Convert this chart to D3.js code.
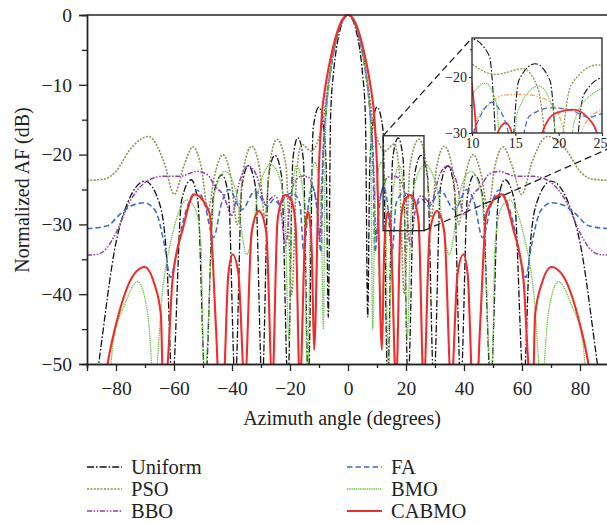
<!DOCTYPE html>
<html><head><meta charset="utf-8">
<script src="https://cdn.jsdelivr.net/npm/d3@7/dist/d3.min.js"></script>
<style>
body{margin:0;background:#fff;}
svg{display:block;font-family:"Liberation Serif","Times New Roman",serif;}
</style></head><body>
<svg id="chart" width="607" height="523"></svg>
<script>
// ---------- data (angle in degrees, normalized AF in dB) ----------
const xTicks = [-80,-60,-40,-20,0,20,40,60,80];
const yTicks = [0,-10,-20,-30,-40,-50];
const insetXTicks = [10,15,20,25];
const insetYTicks = [-20,-30];
const seriesNames = ["Uniform","PSO","BBO","FA","BMO","CABMO"];

const uniform = [[-90,-60],[-88,-56],[-86,-50],[-80,-32.6],[-76,-26.9],[-70,-23.8],[-65,-27],[-62.5,-35],[-60.6,-53],[-57.4,-26.6],[-54.1,-23.6],[-51.8,-26.6],[-49.2,-53],[-46.4,-25.9],[-43.5,-22.9],[-41.2,-25.9],[-38.9,-53],[-36.6,-24.6],[-34.4,-21.6],[-31.9,-24.6],[-29.6,-53],[-27.4,-23.1],[-25.2,-20.1],[-22.9,-23.1],[-20.7,-53],[-19,-20.6],[-17.3,-17.6],[-15.4,-20.6],[-13.7,-53],[-12,-16.2],[-10,-13.2],[-8.5,-15.8],[-7.5,-22],[-6.8,-43.3],[-6,-14.5],[-5,-8.3],[-4,-4.8],[-3,-2.6],[-2,-1.1],
[0,0],[2,-1.1],[3,-2.6],[4,-4.8],[5,-8.3],[6,-14.5],[6.8,-43.3],[7.5,-22],[8.5,-15.8],[10,-13.2],[12,-16.2],[13.7,-53],[15.4,-20.6],[17.3,-17.6],[19,-20.6],[20.7,-53],[22.9,-23.1],[25.2,-20.1],[27.4,-23.1],[29.6,-53],[31.9,-24.6],[34.4,-21.6],[36.6,-24.6],[38.9,-53],[41.2,-25.9],[43.5,-22.9],[46.4,-25.9],[49.2,-53],[51.8,-26.6],[54.1,-23.6],[57.4,-26.6],[60.6,-53],[62.5,-35],[65,-27],[70,-23.8],[76,-26.9],[80,-32.6],[86,-50],[88,-56],[90,-60]];

const pso = [[-90,-23.7],[-84,-23.5],[-80,-22.4],[-75.2,-19.3],[-68.8,-17.4],[-63.5,-21],[-59.9,-25.7],[-56.5,-21.5],[-53.5,-18.9],[-50.5,-22],[-48.3,-28],[-46,-23],[-43.2,-20],[-40.5,-23],[-38.2,-30],[-36,-22],[-33.2,-18.8],[-30.5,-22],[-28.7,-29],[-27,-21.5],[-24.5,-17.8],[-21.4,-21.5],[-19.4,-40],[-17.6,-22],[-15.9,-18.5],[-12.8,-19.5],[-10,-17.6],[-8.7,-15.5],[-7.5,-11.8],[-6,-7.4],[-4,-3.2],[-2,-0.8],
[0,0],[2,-0.8],[4,-3.2],[6,-7.4],[7.5,-11.8],[8.7,-15.5],[10,-17.6],[12.8,-19.5],[15.9,-18.5],[17.6,-22],[19.4,-40],[21.4,-21.5],[24.5,-17.8],[27,-21.5],[28.7,-29],[30.5,-22],[33.2,-18.8],[36,-22],[38.2,-30],[40.5,-23],[43.2,-20],[46,-23],[48.3,-28],[50.5,-22],[53.5,-18.9],[56.5,-21.5],[59.9,-25.7],[63.5,-21],[68.8,-17.4],[75.2,-19.3],[80,-22.4],[84,-23.5],[90,-23.7]];

const bbo = [[-90,-34.4],[-86.6,-34.3],[-83,-33.3],[-80,-31.2],[-75.2,-26.7],[-69.3,-23.8],[-63.6,-23.1],[-57.9,-23.1],[-52,-22.4],[-48.4,-22.9],[-45.9,-24.5],[-43,-25.8],[-40.1,-28.7],[-37.5,-24],[-34.4,-21.6],[-31.5,-23],[-28.6,-26.9],[-25.2,-25.9],[-23.2,-28],[-21.5,-33],[-19.8,-26],[-17.7,-23.5],[-16,-23.1],[-13.8,-23.2],[-12.1,-24.7],[-10.6,-27.5],[-9.7,-32],[-8.7,-20.5],[-7.5,-13],[-6,-8],[-4,-3.5],[-2,-0.9],
[0,0],[2,-0.9],[4,-3.5],[6,-8],[7.5,-13],[8.7,-20.5],[9.7,-32],[10.6,-27.5],[12.1,-24.7],[13.8,-23.2],[16,-23.1],[17.7,-23.5],[19.8,-26],[21.5,-33],[23.2,-28],[25.2,-25.9],[28.6,-26.9],[31.5,-23],[34.4,-21.6],[37.5,-24],[40.1,-28.7],[43,-25.8],[45.9,-24.5],[48.4,-22.9],[52,-22.4],[57.9,-23.1],[63.6,-23.1],[69.3,-23.8],[75.2,-26.7],[80,-31.2],[83,-33.3],[86.6,-34.3],[90,-34.4]];

const fa = [[-90,-30.6],[-83,-30.2],[-78.5,-28.5],[-74.5,-27.3],[-70.3,-26.9],[-66.5,-28],[-63,-33.6],[-61.3,-37.6],[-59.5,-35],[-56.7,-29.3],[-54.5,-26.5],[-52,-25.1],[-49.5,-27],[-46.4,-31.9],[-43.5,-26.8],[-41,-25],[-36.7,-27.9],[-32,-25.2],[-27.8,-27.4],[-25.5,-26.4],[-23.5,-27.2],[-21.6,-26],[-19.2,-25.5],[-16.6,-27],[-15.2,-34],[-13.6,-27],[-12.3,-24.5],[-11.3,-26],[-10.4,-29],[-9.3,-34],[-8.6,-21],[-7.5,-13.5],[-6,-8],[-4,-3.5],[-2,-0.9],
[0,0],[2,-0.9],[4,-3.5],[6,-8],[7.5,-13.5],[8.6,-21],[9.3,-34],[10.4,-29],[11.3,-26],[12.3,-24.5],[13.6,-27],[15.2,-34],[16.6,-27],[19.2,-25.5],[21.6,-26],[23.5,-27.2],[25.5,-26.4],[27.8,-27.4],[32,-25.2],[36.7,-27.9],[41,-25],[43.5,-26.8],[46.4,-31.9],[49.5,-27],[52,-25.1],[54.5,-26.5],[56.7,-29.3],[59.5,-35],[61.3,-37.6],[63,-33.6],[66.5,-28],[70.3,-26.9],[74.5,-27.3],[78.5,-28.5],[83,-30.2],[90,-30.6]];

const bmo = [[-90,-60],[-82.5,-53],[-81,-47],[-77,-41.5],[-72.5,-38.2],[-69,-43],[-66.8,-53],[-63.9,-39.3],[-60.4,-31.2],[-55.5,-26.5],[-52.5,-28],[-50.7,-33],[-49.6,-53],[-46,-25.5],[-42.4,-22.4],[-38.8,-25],[-34.9,-34.3],[-30.5,-24.5],[-26.7,-21.4],[-23.5,-23.5],[-21.8,-28],[-20.4,-46.5],[-19.3,-25.5],[-17.7,-21.6],[-15.3,-26],[-13.9,-53],[-12.8,-24.5],[-11.5,-21.1],[-10,-23.5],[-9.3,-27],[-8.5,-45],[-7.8,-17],[-7,-11.5],[-6,-7.8],[-4,-3.3],[-2,-0.8],
[0,0],[2,-0.8],[4,-3.3],[6,-7.8],[7,-11.5],[7.8,-17],[8.5,-45],[9.3,-27],[10,-23.5],[11.5,-21.1],[12.8,-24.5],[13.9,-53],[15.3,-26],[17.7,-21.6],[19.3,-25.5],[20.4,-46.5],[21.8,-28],[23.5,-23.5],[26.7,-21.4],[30.5,-24.5],[34.9,-34.3],[38.8,-25],[42.4,-22.4],[46,-25.5],[49.6,-53],[50.7,-33],[52.5,-28],[55.5,-26.5],[60.4,-31.2],[63.9,-39.3],[66.8,-53],[69,-43],[72.5,-38.2],[77,-41.5],[81,-47],[82.5,-53],[90,-60]];

const cabmo = [[-90,-60],[-84,-53],[-82.9,-50],[-78.9,-42.6],[-74.2,-37.4],[-70.2,-36.1],[-66.8,-38.5],[-64.5,-43],[-63.8,-53],[-63,-53],[-62.2,-50],[-60.5,-37.9],[-57,-30.7],[-53,-25.7],[-47.8,-28.3],[-45.5,-45],[-44.5,-53],[-43,-53],[-41.3,-37.3],[-39.8,-34.3],[-37.8,-37],[-35.6,-53],[-33.2,-31],[-30.7,-28.1],[-28.2,-31],[-26.1,-53],[-24.4,-30],[-23.5,-27.5],[-21.7,-25.8],[-19.6,-26.5],[-18.1,-30],[-16.6,-53],[-14.7,-30.5],[-13.9,-28.2],[-13.1,-29.5],[-12.4,-35],[-11.7,-48],[-10,-21.6],[-9,-14.2],[-8,-10.8],[-7,-8.3],[-6,-6.2],[-4,-2.8],[-2,-0.7],
[0,0],[2,-0.7],[4,-2.8],[6,-6.2],[7,-8.3],[8,-10.8],[9,-14.2],[10,-21.6],[11.7,-48],[12.4,-35],[13.1,-29.5],[13.9,-28.2],[14.7,-30.5],[16.6,-53],[18.1,-30],[19.6,-26.5],[21.7,-25.8],[23.5,-27.5],[24.4,-30],[26.1,-53],[28.2,-31],[30.7,-28.1],[33.2,-31],[35.6,-53],[37.8,-37],[39.8,-34.3],[41.3,-37.3],[43,-53],[44.5,-53],[45.5,-45],[47.8,-28.3],[53,-25.7],[57,-30.7],[60.5,-37.9],[62.2,-50],[63,-53],[63.8,-53],[64.5,-43],[66.8,-38.5],[70.2,-36.1],[74.2,-37.4],[78.9,-42.6],[82.9,-50],[84,-53],[90,-60]];

// zoomed region marker in the main plot (data coordinates)
const zoomBoxX = [12.1, 26.2];
const zoomBoxY = [-30.9, -17.3];

// ---------- styles ----------
const styles = {
  Uniform:{color:"#111111", dash:"7,2,1.6,2", w:1.3},
  PSO:{color:"#8f8f4f", dash:"2,1.4", w:1.6},
  BBO:{color:"#933fa3", dash:"5,1.6,1.6,1.6,1.6,1.6", w:1.5},
  FA:{color:"#3d6fc8", dash:"5.5,3", w:1.6},
  BMO:{color:"#6cc24a", dash:"1.4,0.8", w:1.3},
  CABMO:{color:"#f02c2c", dash:null, w:2.1}
};
const data = {Uniform:uniform, PSO:pso, BBO:bbo, FA:fa, BMO:bmo, CABMO:cabmo};

const svg = d3.select("#chart");
const L=87, R=609, T=15, B=364;
const x = d3.scaleLinear().domain([-90,90]).range([L,R]);
const y = d3.scaleLinear().domain([-50,0]).range([B,T]);

svg.append("clipPath").attr("id","mainclip").append("rect")
  .attr("x",L).attr("y",T-1).attr("width",R-L).attr("height",B-T+1);

const gLines = svg.append("g").attr("clip-path","url(#mainclip)");
const line = d3.line().x(d=>x(d[0])).y(d=>y(d[1])).curve(d3.curveMonotoneX);
seriesNames.forEach(n=>{
  const s=styles[n];
  gLines.append("path").attr("d",line(data[n])).attr("fill","none")
    .attr("stroke",s.color).attr("stroke-width",s.w)
    .attr("stroke-dasharray",s.dash).attr("stroke-linejoin","round");
});

// frame: top line
svg.append("line").attr("x1",L).attr("x2",R).attr("y1",T).attr("y2",T)
  .attr("stroke","#222").attr("stroke-width",1.4);

// axes
const xAxis = svg.append("g").attr("transform",`translate(0,${B})`)
  .call(d3.axisBottom(x).tickValues(xTicks).tickSize(7).tickPadding(7)
  .tickFormat(d=>d<0?"\u2212"+Math.abs(d):d));
const xMinor = svg.append("g").attr("transform",`translate(0,${B})`)
  .call(d3.axisBottom(x).tickValues(d3.range(-90,91,10).filter(v=>!xTicks.includes(v))).tickSize(4).tickFormat(""));
const yAxis = svg.append("g").attr("transform",`translate(${L},0)`)
  .call(d3.axisLeft(y).tickValues(yTicks).tickSize(8).tickPadding(7)
  .tickFormat(d=>d<0?"\u2212"+Math.abs(d):d));
const yMinor = svg.append("g").attr("transform",`translate(${L},0)`)
  .call(d3.axisLeft(y).tickValues([-5,-15,-25,-35,-45]).tickSize(5).tickFormat(""));
[xAxis,xMinor,yAxis,yMinor].forEach(g=>{
  g.select(".domain").attr("stroke","#222").attr("stroke-width",1.4);
  g.selectAll(".tick line").attr("stroke","#222").attr("stroke-width",1.3);
  g.selectAll("text").attr("font-family","Liberation Serif, serif").attr("font-size",19.5).attr("fill","#222");
});
xAxis.selectAll("text").attr("dy","0.85em");

svg.append("text").attr("x",342).attr("y",425).attr("text-anchor","middle")
  .attr("font-size",20).attr("fill","#222").text("Azimuth angle (degrees)");
svg.append("text").attr("transform","translate(29,190) rotate(-90)").attr("text-anchor","middle")
  .attr("font-size",20).attr("fill","#222").text("Normalized AF (dB)");

// zoom box in main plot
svg.append("rect").attr("x",x(zoomBoxX[0])).attr("y",y(zoomBoxY[1]))
  .attr("width",x(zoomBoxX[1])-x(zoomBoxX[0])).attr("height",y(zoomBoxY[0])-y(zoomBoxY[1]))
  .attr("fill","none").attr("stroke","#222").attr("stroke-width",1.3);

// inset
const IL=472, IR=602, IT=38, IB=133;
const ix = d3.scaleLinear().domain([10,25]).range([IL,IR]);
const iy = d3.scaleLinear().domain([-30,-13]).range([IB,IT]);

// leader lines
svg.append("line").attr("x1",x(zoomBoxX[0])).attr("y1",y(zoomBoxY[1])).attr("x2",IL).attr("y2",IT)
  .attr("stroke","#222").attr("stroke-width",1.3).attr("stroke-dasharray","7,4");
svg.append("line").attr("x1",x(zoomBoxX[1])).attr("y1",y(zoomBoxY[0])).attr("x2",IR+8).attr("y2",IB+15)
  .attr("stroke","#222").attr("stroke-width",1.3).attr("stroke-dasharray","7,4");

svg.append("rect").attr("x",IL).attr("y",IT).attr("width",IR-IL).attr("height",IB-IT).attr("fill","#fff");
svg.append("clipPath").attr("id","insetclip").append("rect")
  .attr("x",IL).attr("y",IT).attr("width",IR-IL).attr("height",IB-IT);
const gIn = svg.append("g").attr("clip-path","url(#insetclip)");
const iline = d3.line().x(d=>ix(d[0])).y(d=>iy(d[1])).curve(d3.curveMonotoneX);
const insetColors = {Uniform:"#111111",PSO:"#8f8f4f",BBO:"#f5a05a",FA:"#3d6fc8",BMO:"#6cc24a",CABMO:"#f02c2c"};
seriesNames.forEach(n=>{
  const s=styles[n];
  gIn.append("path").attr("d",iline(data[n])).attr("fill","none")
    .attr("stroke",insetColors[n]).attr("stroke-width",Math.max(1.1,s.w-0.3))
    .attr("stroke-dasharray",s.dash);
});
svg.append("rect").attr("x",IL).attr("y",IT).attr("width",IR-IL).attr("height",IB-IT)
  .attr("fill","none").attr("stroke","#222").attr("stroke-width",1.3);
const ixA = svg.append("g").attr("transform",`translate(0,${IB})`)
  .call(d3.axisBottom(ix).tickValues(insetXTicks).tickSize(3).tickPadding(2));
const iyA = svg.append("g").attr("transform",`translate(${IL},0)`)
  .call(d3.axisLeft(iy).tickValues(insetYTicks).tickSize(3).tickPadding(2)
  .tickFormat(d=>"\u2212"+Math.abs(d)));
const iyMinor = svg.append("g").attr("transform",`translate(${IL},0)`)
  .call(d3.axisLeft(iy).tickValues([-25,-15]).tickSize(2).tickFormat(""));
[ixA,iyA,iyMinor].forEach(g=>{
  g.select(".domain").remove();
  g.selectAll(".tick line").attr("stroke","#222");
  g.selectAll("text").attr("font-family","Liberation Serif, serif").attr("font-size",14).attr("fill","#222");
});
// keep the last inset label inside the picture
ixA.selectAll(".tick").filter(d=>d===25).select("text").attr("text-anchor","end").attr("dx","5");

// legend
const legendItems = [
  {n:"Uniform",col:0,row:0},{n:"PSO",col:0,row:1},{n:"BBO",col:0,row:2},
  {n:"FA",col:1,row:0},{n:"BMO",col:1,row:1},{n:"CABMO",col:1,row:2}];
const colX=[87,347], rowY=[467,489,511];
legendItems.forEach(it=>{
  const s=styles[it.n];
  const lx=colX[it.col], ly=rowY[it.row];
  svg.append("line").attr("x1",lx).attr("x2",lx+35).attr("y1",ly).attr("y2",ly)
    .attr("stroke",s.color).attr("stroke-width",s.w).attr("stroke-dasharray",s.dash);
  svg.append("text").attr("x",lx+44).attr("y",ly+7).attr("font-size",20.5).attr("fill","#222").text(it.n);
});
</script></body></html>
